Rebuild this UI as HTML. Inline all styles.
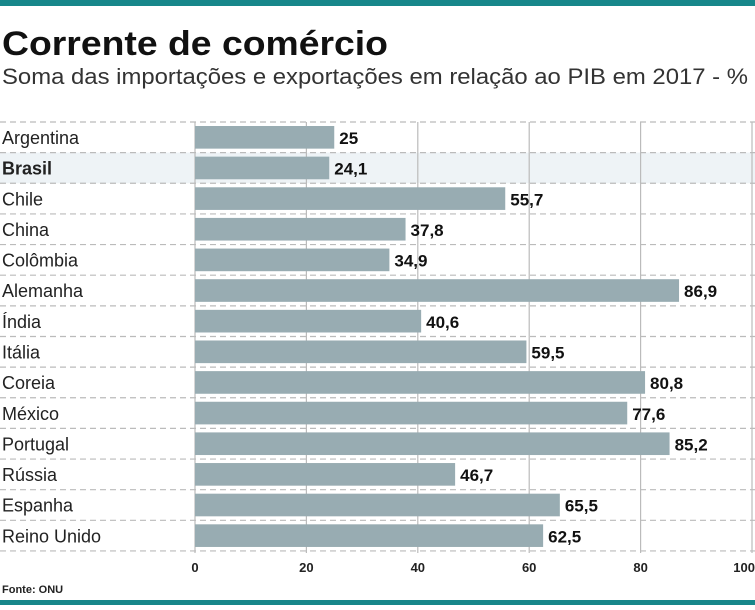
<!DOCTYPE html>
<html><head><meta charset="utf-8"><style>
body{margin:0;width:755px;height:605px;background:#fff;overflow:hidden;font-family:"Liberation Sans",sans-serif}
</style></head><body>
<svg width="755" height="605" xmlns="http://www.w3.org/2000/svg">
<rect x="0" y="0" width="755" height="6" fill="#17878a"/>
<text x="2" y="55" font-size="34" font-weight="bold" fill="#111" textLength="386" lengthAdjust="spacingAndGlyphs">Corrente de comércio</text>
<text x="2" y="84" font-size="22" fill="#333" textLength="746" lengthAdjust="spacingAndGlyphs">Soma das importações e exportações em relação ao PIB em 2017 - %</text>
<g id="plot"></g>
<text x="2" y="593" font-size="11" font-weight="bold" fill="#222">Fonte: ONU</text>
<rect x="0" y="600" width="755" height="5" fill="#17878a"/>
</svg>
<script>
const categories=["Argentina","Brasil","Chile","China","Colômbia","Alemanha","Índia","Itália","Coreia","México","Portugal","Rússia","Espanha","Reino Unido"];
const values=[25,24.1,55.7,37.8,34.9,86.9,40.6,59.5,80.8,77.6,85.2,46.7,65.5,62.5];
const labels=["25","24,1","55,7","37,8","34,9","86,9","40,6","59,5","80,8","77,6","85,2","46,7","65,5","62,5"];
const ticks=[0,20,40,60,80,100];
const NS="http://www.w3.org/2000/svg";
const g=document.getElementById('plot');
const x=v=>195+v*5.57;
const top0=122,rowH=30.64;
const y=i=>top0+i*rowH;
function mk(t,a){const e=document.createElementNS(NS,t);for(const k in a)e.setAttribute(k,a[k]);g.appendChild(e);return e;}
let hl=mk('rect',{x:0,y:y(1),width:755,height:rowH,fill:'#eef3f6'});


ticks.forEach(t=>{
 let l=mk('line',{x1:x(t),x2:x(t),y1:top0,y2:y(categories.length)+2,stroke:'#bbb','stroke-width':1.2});
 
 
 let tx=mk('text',{x:x(t),y:572,'font-size':13,'font-weight':'bold','text-anchor':t==100?'end':'middle',fill:'#222'});
 if(t==100)tx.setAttribute('x',755);
 tx.textContent=t;
 
 
});
for(let i=0;i<=categories.length;i++){
 let l=mk('line',{x1:0,x2:755,y1:y(i),y2:y(i),stroke:'#bbb','stroke-width':1.2,'stroke-dasharray':'6,4'});
 
 
}
categories.forEach((c,i)=>{
 let r=mk('rect',{x:x(0),y:y(i)+4,width:x(values[i])-x(0),height:rowH-8,fill:'#98acb2'});
 
 
 let v=mk('text',{x:x(values[i])+5,y:y(i)+22,'font-size':17,'font-weight':'bold',fill:'#111'});
 v.textContent=labels[i];
 
 
 let n=mk('text',{x:2,y:y(i)+22,'font-size':18,fill:'#222','font-weight':c=='Brasil'?'bold':'normal'});
 n.textContent=c;
 
 
});
</script>
</body></html>
